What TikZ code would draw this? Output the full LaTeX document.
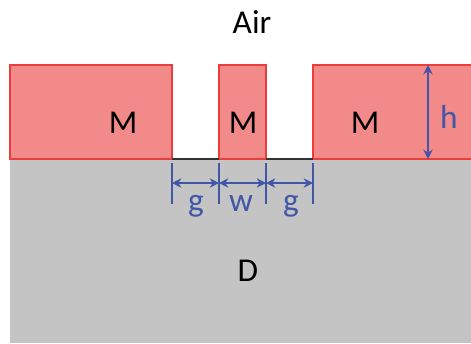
\documentclass[tikz,border=0pt]{standalone}
\usepackage{fontspec}
\setmainfont{Carlito}
\usetikzlibrary{arrows.meta}
\definecolor{metalfill}{HTML}{F28A8A}
\definecolor{metaledge}{HTML}{EE3B3B}
\definecolor{dielfill}{HTML}{C4C4C4}
\definecolor{dimblue}{HTML}{4256A8}
\begin{document}
\begin{tikzpicture}
          [x=0.75pt,y=-0.75pt,
           lbl/.style={font=\fontsize{25}{30}\selectfont, inner sep=0pt, anchor=base},
           dimlbl/.style={lbl, text=dimblue},
           block/.style={fill=metalfill, draw=metaledge, line width=1pt},
           dimline/.style={draw=dimblue, line width=0.9pt, {Stealth[length=7pt,width=7pt]}-{Stealth[length=7pt,width=7pt]}},
           dimtick/.style={draw=dimblue, line width=0.9pt}]
        \useasboundingbox (0,0) rectangle (471,343);

        % substrate and metal strips
        \fill[dielfill] (10,159) rectangle (471,343);
        \draw[block] (10,65) rectangle (172,159);
        \draw[block] (219,65) rectangle (266,159);
        \fill[metalfill] (313,65) rectangle (471,159);
        \draw[metaledge, line width=1pt] (471,65) -- (313,65) -- (313,159) -- (471,159);
        \draw[gray!40!black, line width=1pt] (172,159) -- (219,159) (266,159) -- (313,159);

        \node[lbl] (air) at (252,33) {Air};
        \node[lbl] (m1) at (123,133) {M};
        \node[lbl] (m2) at (243,133) {M};
        \node[lbl] (m3) at (365,133) {M};
        \node[lbl] (d) at (248,281) {D};

        % dimension ticks
        \foreach \name/\x in {t1/172, t2/219, t3/266, t4/313} {
          \coordinate (\name top) at (\x,163);
          \coordinate (\name bot) at (\x,204);
          \coordinate (\name) at (\x,183);
          \draw[dimtick] (\name top) -- (\name bot);
        }

        \foreach \from/\to in {t1/t2, t2/t3, t3/t4}
          \draw[dimline] (\from) -- (\to);

        \node[dimlbl] (g1) at (196,211) {g};
        \node[dimlbl] (w) at (241,211) {w};
        \node[dimlbl] (g2) at (291,211) {g};

        \coordinate (htop) at (428,65);
        \coordinate (hbot) at (428,159);
        \draw[dimline] (htop) -- (hbot);
        \node[dimlbl] (h) at (449,128) {h};
      \end{tikzpicture}
\end{document}
